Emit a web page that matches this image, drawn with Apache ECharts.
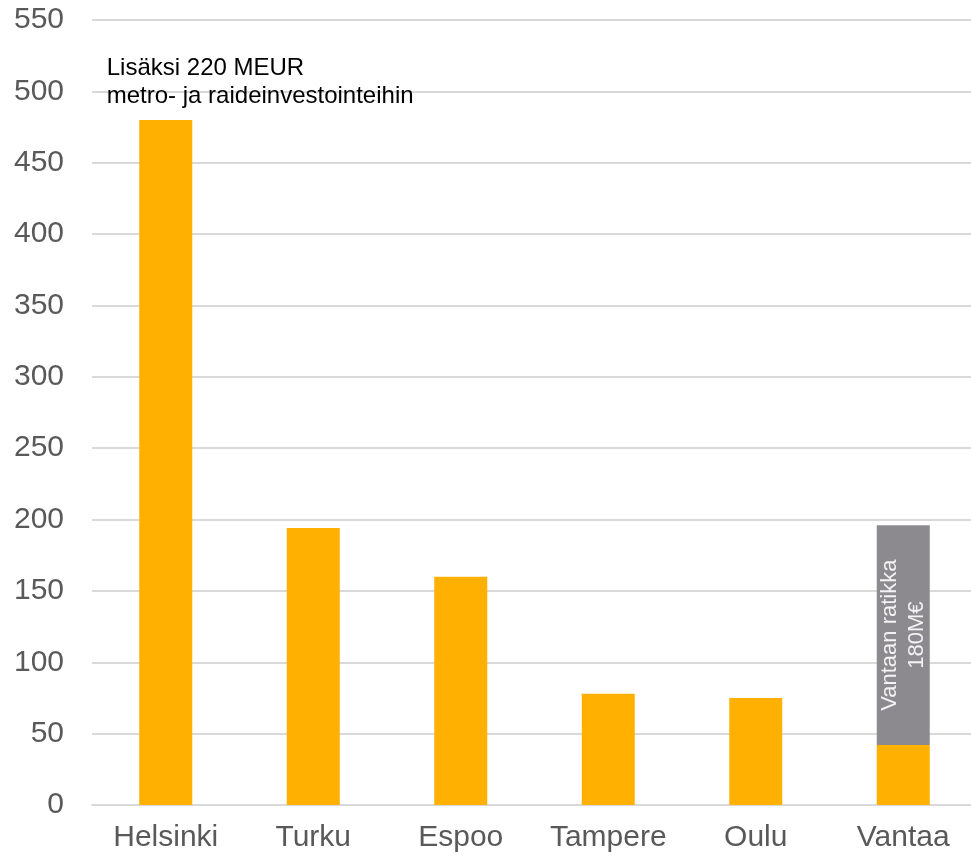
<!DOCTYPE html>
<html><head><meta charset="utf-8">
<script src="https://cdn.jsdelivr.net/npm/echarts@6/dist/echarts.min.js"></script>
<style>html,body{margin:0;padding:0;background:#fff;overflow:hidden}#c{width:977px;height:860px}</style>
</head><body><div id="c"></div>
<script>
const categories = ['Helsinki','Turku','Espoo','Tampere','Oulu','Vantaa'];
const baseValues = [480, 194, 160, 78, 75, 42];
const extraValues = [0, 0, 0, 0, 0, 154];
const yTicks = {min: 0, max: 550, interval: 50};
const helsinkiNote = 'Lisäksi 220 MEUR\nmetro- ja raideinvestointeihin';
const vantaaNote = 'Vantaan ratikka\n180M€';

const chart = echarts.init(document.getElementById('c'));
chart.setOption({
  animation: false,
  grid: {left: 92, right: 0, top: 20, bottom: 55, containLabel: false},
  xAxis: {
    type: 'category', data: categories,
    axisLine: {lineStyle: {color: '#d9d9d9', width: 2}},
    axisTick: {show: false},
    axisLabel: {color: '#595959', fontSize: 30, fontFamily: 'Liberation Sans', margin: 18, interval: 0}
  },
  yAxis: {
    type: 'value', min: yTicks.min, max: yTicks.max, interval: yTicks.interval,
    axisLine: {show: false}, axisTick: {show: false},
    splitLine: {lineStyle: {color: '#d9d9d9', width: 2}},
    axisLabel: {color: '#595959', fontSize: 30, fontFamily: 'Liberation Sans', margin: 28}
  },
  series: [
    {
      type: 'bar', stack: 's', barWidth: 53,
      itemStyle: {color: '#ffb000'},
      data: baseValues.map((v, i) => i === 0 ? {
        value: v,
        label: {show: true, position: 'top', align: 'left', offset: [-59, -5],
          formatter: helsinkiNote, color: '#000', fontSize: 24, lineHeight: 28,
          fontFamily: 'Liberation Sans'}
      } : v)
    },
    {
      type: 'bar', stack: 's', barWidth: 53,
      itemStyle: {color: '#8c8a8e'},
      data: extraValues.map((v, i) => v ? {
        value: v,
        label: {show: true, position: 'inside', rotate: 90, formatter: vantaaNote,
          color: '#f2f2f2', fontSize: 22, lineHeight: 27, fontFamily: 'Liberation Sans', align: 'center'}
      } : null)
    }
  ]
});
</script></body></html>
